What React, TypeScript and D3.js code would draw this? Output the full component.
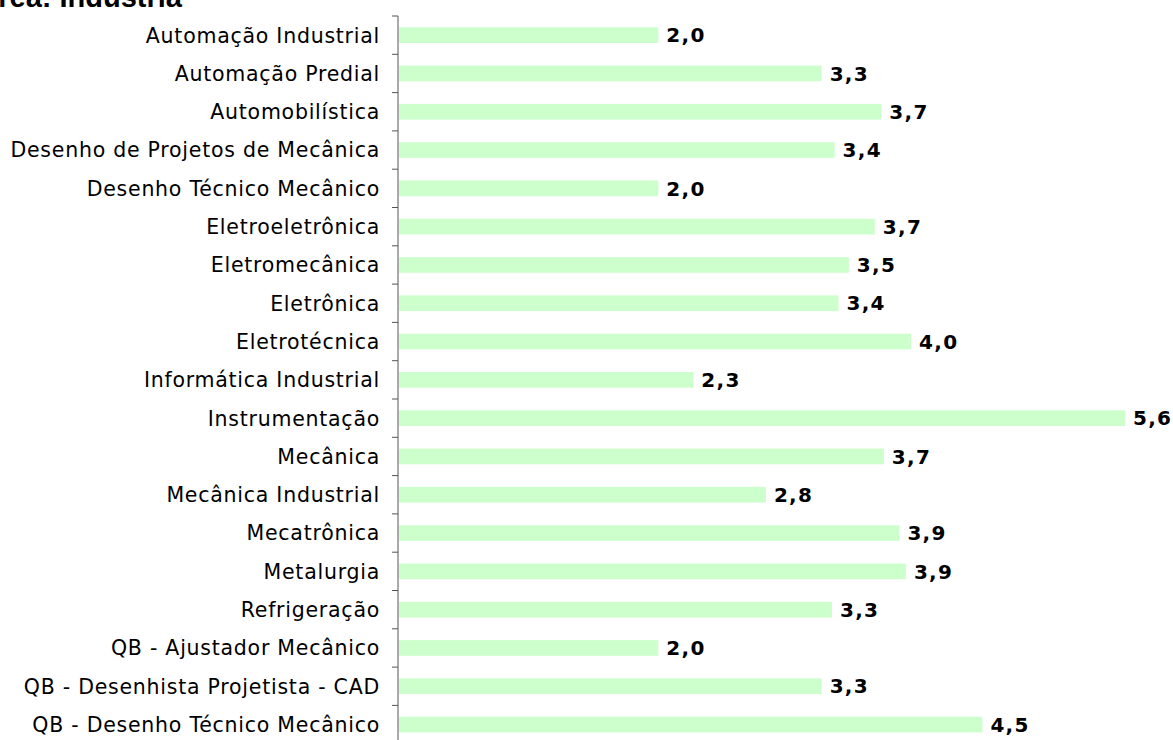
import React from "react";
import * as d3 from "d3";

const categories = [
  "Automação Industrial",
  "Automação Predial",
  "Automobilística",
  "Desenho de Projetos de Mecânica",
  "Desenho Técnico Mecânico",
  "Eletroeletrônica",
  "Eletromecânica",
  "Eletrônica",
  "Eletrotécnica",
  "Informática Industrial",
  "Instrumentação",
  "Mecânica",
  "Mecânica Industrial",
  "Mecatrônica",
  "Metalurgia",
  "Refrigeração",
  "QB - Ajustador Mecânico",
  "QB - Desenhista Projetista - CAD",
  "QB - Desenho Técnico Mecânico",
];
const values = [2.0, 3.26, 3.72, 3.36, 2.0, 3.67, 3.47, 3.39, 3.95, 2.27, 5.6, 3.74, 2.83, 3.86, 3.91, 3.34, 2.0, 3.26, 4.5];
const title = "Área: Indústria";

export default function App() {
  const W = 1173, H = 740;
  const x0 = 398;
  const x = d3.scaleLinear().domain([0, 5.6]).range([x0, x0 + 726]);
  const y = d3.scaleBand<string>().domain(categories).range([16, 16 + 38.3 * categories.length]).paddingInner(0.59).paddingOuter(0.295);
  const band = y.step();
  const font = "Tahoma, Verdana, 'DejaVu Sans', sans-serif";
  const fmt = (v: number) => v.toFixed(1).replace(".", ",");
  return (
    <svg width={W} height={H} style={{ position: "absolute", left: 0, top: 0, background: "#fff" }}>
      <text x={182} y={7} textAnchor="end" fontFamily="Arial, 'Liberation Sans', sans-serif" fontWeight="bold" fontSize={29} fill="#000">{title}</text>
      {categories.map((c, i) => (
        <g key={c}>
          <rect x={x(0) + 1} y={y(c)!} width={x(values[i]) - x(0)} height={y.bandwidth()} fill="#CCFFCC" />
          <text x={x(values[i]) + 9} y={y(c)! + y.bandwidth() / 2} dy="0.36em" fontFamily={font} fontWeight="bold" fontSize={20} letterSpacing={1.3} fill="#000">{fmt(values[i])}</text>
          <text x={380} y={y(c)! + y.bandwidth() / 2} dy="0.36em" textAnchor="end" fontFamily={font} fontSize={20.5} letterSpacing={0.75} fill="#000">{c}</text>
        </g>
      ))}
      {d3.range(categories.length + 1).map((i) => (
        <line key={i} x1={x0 - 6} x2={x0} y1={16 + i * band} y2={16 + i * band} stroke="#555" strokeWidth={1} />
      ))}
      <line x1={x0} x2={x0} y1={16} y2={16 + band * categories.length} stroke="#555" strokeWidth={1} />
    </svg>
  );
}
